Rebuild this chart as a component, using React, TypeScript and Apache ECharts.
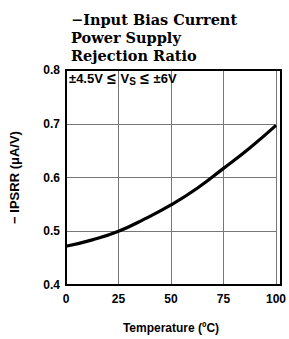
import React, { useEffect, useRef } from "react";
import * as echarts from "echarts";

const temperatures = [0, 12.5, 25, 37.5, 50, 62.5, 75, 87.5, 100];
const ipsrr = [0.472, 0.484, 0.5, 0.523, 0.549, 0.58, 0.617, 0.655, 0.697];
const xTicks = [0, 25, 50, 75, 100];
const yTicks = [0.4, 0.5, 0.6, 0.7, 0.8];
const titleLines = ["\u2212Input Bias Current", "Power Supply", "Rejection Ratio"];

export default function App() {
  const ref = useRef<HTMLDivElement>(null);
  useEffect(() => {
    if (!ref.current) return;
    const chart = echarts.init(ref.current, null, { renderer: "svg" });
    const sans = "Liberation Sans, Arial, sans-serif";
    chart.setOption({
      animation: false,
      backgroundColor: "#fff",
      title: {
        text: titleLines.join("\n"),
        left: 66,
        top: 5,
        textStyle: {
          fontFamily: "DejaVu Serif, serif",
          fontWeight: "bold",
          fontSize: 14.5,
          lineHeight: 18,
          color: "#000",
        },
      },
      grid: { left: 66, right: 8, top: 70, bottom: 54 },
      xAxis: {
        type: "value",
        min: 0,
        max: 100,
        interval: 25,
        name: "Temperature (\u00BAC)",
        nameLocation: "middle",
        nameGap: 37,
        nameTextStyle: { fontFamily: sans, fontSize: 12, fontWeight: "bold", color: "#000" },
        axisLine: { show: true, lineStyle: { color: "#000", width: 2 } },
        axisTick: { show: false },
        axisLabel: {
          fontFamily: sans,
          fontSize: 12,
          fontWeight: "bold",
          color: "#000",
          margin: 8,
          formatter: (v: number) => (xTicks.includes(v) ? String(v) : ""),
        },
        splitLine: { show: true, lineStyle: { color: "#777", width: 1 } },
      },
      yAxis: {
        type: "value",
        min: 0.4,
        max: 0.8,
        interval: 0.1,
        name: "\u2212 IPSRR (\u03BCA/V)",
        nameLocation: "middle",
        nameGap: 45,
        nameTextStyle: { fontFamily: sans, fontSize: 13, fontWeight: "bold", color: "#000" },
        axisLine: { show: true, lineStyle: { color: "#000", width: 2 } },
        axisTick: { show: false },
        axisLabel: {
          fontFamily: sans,
          fontSize: 12,
          fontWeight: "bold",
          color: "#000",
          margin: 6,
          formatter: (v: number) => {
            const t = yTicks.find((y) => Math.abs(y - v) < 1e-6);
            return t !== undefined ? t.toFixed(1) : "";
          },
        },
        splitLine: { show: true, lineStyle: { color: "#777", width: 1 } },
      },
      graphic: [
        {
          type: "rect",
          shape: { x: 66, y: 70, width: 215, height: 215 },
          style: { fill: "none", stroke: "#000", lineWidth: 2 },
          silent: true,
          z: 10,
        },
        {
          type: "text",
          x: 69,
          y: 71,
          style: {
            text: "{a|\u00B14.5V}{b| \u2264 }{a|V}{s|S}{b| \u2264 }{a|\u00B16V}",
            rich: {
              a: { fontFamily: sans, fontSize: 13, fontWeight: "bold", fill: "#000", lineHeight: 15 },
              b: { fontFamily: sans, fontSize: 16, fontWeight: "bold", fill: "#000", lineHeight: 15 },
              s: { fontFamily: sans, fontSize: 10, fontWeight: "bold", fill: "#000", padding: [5, 0, 0, 0], lineHeight: 15 },
            },
          },
          z: 11,
        },
      ],
      series: [
        {
          type: "line",
          data: temperatures.map((t, i) => [t, ipsrr[i]]),
          smooth: true,
          showSymbol: false,
          lineStyle: { color: "#000", width: 3.2 },
        },
      ],
    });
    return () => chart.dispose();
  }, []);
  return <div ref={ref} style={{ position: "fixed", left: 0, top: 0, width: 289, height: 339 }} />;
}
